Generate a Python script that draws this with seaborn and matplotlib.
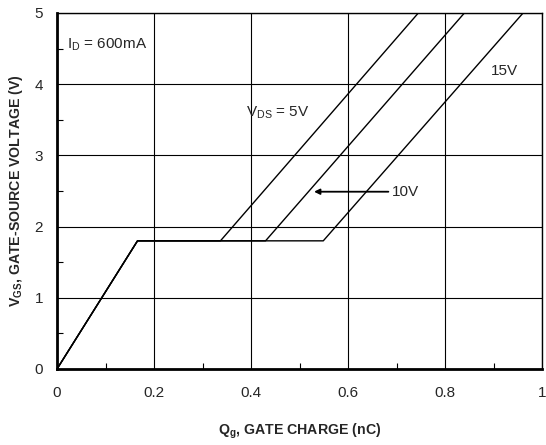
import pandas as pd
import matplotlib.pyplot as plt
import seaborn as sns
from matplotlib.ticker import MultipleLocator

# gate charge curves, one per V_DS (breakpoints)
series = ["5V", "10V", "15V"]
q_knee = 0.166
v_plateau = 1.8
q_plateau_end = [0.337, 0.43, 0.549]
q_top = [0.745, 0.84, 0.961]
v_top = 5.0

rows = []
for s, qe, qt in zip(series, q_plateau_end, q_top):
    for q, v in [(0, 0), (q_knee, v_plateau), (qe, v_plateau), (qt, v_top)]:
        rows.append({"Qg": q, "VGS": v, "VDS": s})
df = pd.DataFrame(rows)

sns.set_style("white")
plt.rcParams["font.family"] = ["Liberation Sans", "DejaVu Sans"]
plt.rcParams["mathtext.fontset"] = "custom"
plt.rcParams["mathtext.rm"] = "Liberation Sans"
plt.rcParams["mathtext.bf"] = "Liberation Sans:bold"

fig = plt.figure(figsize=(5.46, 4.45), dpi=100)
ax = fig.add_axes([57 / 546, 76 / 445, 485 / 546, 356 / 445])

sns.lineplot(data=df, x="Qg", y="VGS", hue="VDS", units="VDS", estimator=None,
             sort=False, palette=["black"] * 3, legend=False, linewidth=1.0, ax=ax)

ax.set_xlim(0, 1)
ax.set_ylim(0, 5)
ax.xaxis.set_minor_locator(MultipleLocator(0.1))
ax.yaxis.set_minor_locator(MultipleLocator(0.5))
ax.set_xticks([0, 0.2, 0.4, 0.6, 0.8, 1])
ax.set_xticklabels(["0", "0.2", "0.4", "0.6", "0.8", "1"])
ax.set_yticks([0, 1, 2, 3, 4, 5])
ax.set_yticklabels(["0", "1", "2", "3", "4", "5"])
ax.grid(True, which="major", color="black", linewidth=0.8)
ax.tick_params(which="both", bottom=True, left=True, top=False, right=False)
ax.tick_params(which="major", length=0, labelsize=11, pad=12)
ax.tick_params(which="minor", direction="in", length=4, width=0.8, color="black")
ax.tick_params(axis="y", which="major", pad=10)
for side in ["top", "right"]:
    ax.spines[side].set_linewidth(1.0)
for side in ["left", "bottom"]:
    ax.spines[side].set_linewidth(2.0)
for sp in ax.spines.values():
    sp.set_color("black")
    sp.set_visible(True)

ax.set_xlabel(r"$\mathbf{Q_g}$, GATE CHARGE (nC)", fontsize=10.2, fontweight="bold", labelpad=16)
ax.set_ylabel(r"$\mathbf{V_{GS}}$, GATE-SOURCE VOLTAGE (V)", fontsize=10.2, fontweight="bold", labelpad=7)

ax.text(0.02, 4.56, r"$\mathregular{I_D}$ = 600mA", fontsize=11, va="center")
ax.text(0.39, 3.6, r"$\mathregular{V_{DS}}$ = 5V", fontsize=11, va="center")
ax.text(0.895, 4.18, "15V", fontsize=11, va="center")
ax.annotate("10V", xy=(0.53, 2.49), xytext=(0.69, 2.49), fontsize=11, va="center",
            arrowprops=dict(arrowstyle="-|>", color="black", lw=1.3, mutation_scale=8,
                            shrinkA=0, shrinkB=0))

plt.savefig("out.png", dpi=100)
plt.close()
